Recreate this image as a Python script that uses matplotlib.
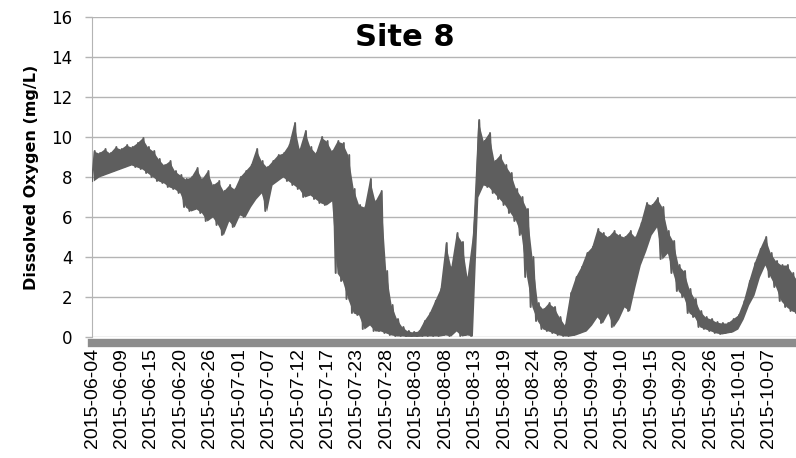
import numpy as np
import matplotlib
matplotlib.use("Agg")
import matplotlib.pyplot as plt

# daily minimum / maximum dissolved oxygen (mg/L), one pair per day from 2015-06-04
do_low = [
    7.8, 8.0, 8.1, 8.2, 8.3, 8.4, 8.5, 8.6, 8.5, 8.4,
    8.2, 8.0, 7.8, 7.7, 7.5, 7.4, 7.2, 6.5, 6.3, 6.4,
    6.2, 5.8, 6.0, 5.6, 5.1, 5.8, 5.5, 6.1, 6.0, 6.5,
    6.9, 7.2, 6.3, 7.6, 7.8, 8.0, 7.8, 7.6, 7.4, 7.0,
    7.1, 6.9, 6.7, 6.6, 6.8, 3.2, 2.8, 1.9, 1.2, 1.1,
    0.4, 0.6, 0.3, 0.3, 0.2, 0.1, 0.05, 0.05, 0.03, 0.03,
    0.03, 0.05, 0.05, 0.05, 0.05, 0.1, 0.05, 0.3, 0.05, 0.1,
    0.05, 7.0, 7.6, 7.5, 7.2, 6.9, 6.6, 6.2, 5.8, 5.1,
    3.0, 1.5, 0.8, 0.4, 0.3, 0.2, 0.1, 0.05, 0.05, 0.1,
    0.2, 0.3, 0.6, 1.0, 0.7, 1.2, 0.5, 0.9, 1.5, 1.3,
    2.5, 3.6, 4.3, 5.1, 5.5, 3.9, 4.2, 3.2, 2.3, 2.0,
    1.2, 1.0, 0.5, 0.4, 0.3, 0.2, 0.15, 0.2, 0.25, 0.4,
    0.9, 1.6, 2.1, 3.0, 3.6, 3.0, 2.5, 1.8, 1.5, 1.3,
    1.2,
]
do_high = [
    9.3, 9.2, 9.4, 9.2, 9.5, 9.4, 9.6, 9.5, 9.7, 9.95,
    9.5, 9.3, 8.9, 8.6, 8.8, 8.3, 8.1, 7.9, 8.0, 8.45,
    7.9, 8.3, 7.6, 7.8, 7.3, 7.6, 7.4, 8.0, 8.3, 8.6,
    9.4, 8.8, 8.5, 8.8, 9.1, 9.2, 9.6, 10.7, 9.4, 10.3,
    9.5, 9.2, 10.0, 9.8, 9.3, 9.8, 9.7, 9.1, 7.4, 6.6,
    6.5, 7.9, 6.8, 7.3, 3.3, 1.6, 0.9, 0.5, 0.3, 0.25,
    0.3, 0.8, 1.2, 1.8, 2.4, 4.7, 3.5, 5.2, 4.75, 3.0,
    5.1, 10.85, 9.8, 10.2, 8.8, 9.1, 8.6, 8.2, 7.4, 7.0,
    6.4, 4.0, 1.7, 1.4, 1.7, 1.5, 1.0, 0.6, 2.2, 3.0,
    3.5, 4.2, 4.5, 5.4, 5.2, 5.0, 5.3, 5.1, 5.0, 5.3,
    5.0, 5.7, 6.7, 6.6, 6.95, 6.5, 5.3, 4.8, 3.6, 3.3,
    2.4, 1.9, 1.3, 1.0, 0.9, 0.75, 0.7, 0.7, 0.9, 1.1,
    1.8, 2.8, 3.7, 4.4, 5.0, 4.2, 3.8, 3.6, 3.6, 3.2,
    2.8,
]
date_labels = [
    "2015-06-04", "2015-06-09", "2015-06-15", "2015-06-20", "2015-06-26",
    "2015-07-01", "2015-07-07", "2015-07-12", "2015-07-17", "2015-07-23",
    "2015-07-28", "2015-08-03", "2015-08-08", "2015-08-13", "2015-08-19",
    "2015-08-24", "2015-08-30", "2015-09-04", "2015-09-10", "2015-09-15",
    "2015-09-20", "2015-09-26", "2015-10-01", "2015-10-07",
]

# night-time low at the start of each day, afternoon high half a day later
day = np.arange(len(do_low), dtype=float)
t = np.column_stack([day, day + 0.5]).ravel()
do = np.column_stack([do_low, do_high]).ravel()

fig = plt.figure(figsize=(7.96, 4.58), dpi=100)
ax = fig.add_axes([92 / 796, 1 - 337 / 458, 704 / 796, 320 / 458])

line_color = "#5e5e5e"
# diurnal swing drawn as a filled band, with the raw low/high trace on top
ax.fill_between(day + 0.25, do_low, do_high, color=line_color, linewidth=0, zorder=2)
ax.plot(t, do, color=line_color, linewidth=1.4, zorder=3)

ax.set_xlim(0, 130)
ax.set_ylim(0, 16)
ax.set_yticks(np.arange(0, 17, 2))
ax.yaxis.grid(True, color="#b4b4b4", linewidth=1.0)
ax.set_axisbelow(True)

ax.set_xticks(np.linspace(0, 125, len(date_labels)))
ax.set_xticklabels(date_labels)
ax.tick_params(axis="x", length=0, pad=4, labelrotation=90, labelsize=14,
               labelfontfamily="Liberation Sans")
ax.tick_params(axis="y", length=5, width=1, color="#b4b4b4", pad=9, labelsize=12)

for side in ("top", "right"):
    ax.spines[side].set_visible(False)
ax.spines["left"].set_color("#b4b4b4")
ax.spines["bottom"].set_color("#8c8c8c")
ax.spines["bottom"].set_linewidth(6)
ax.spines["bottom"].set_position(("outward", 4))

ax.set_ylabel("Dissolved Oxygen (mg/L)", fontsize=11.5, fontweight="bold", labelpad=9)
fig.text(405 / 796, 1 - 37 / 458, "Site 8", fontsize=22, fontweight="bold",
         ha="center", va="center")

fig.savefig("out.png", dpi=100)
